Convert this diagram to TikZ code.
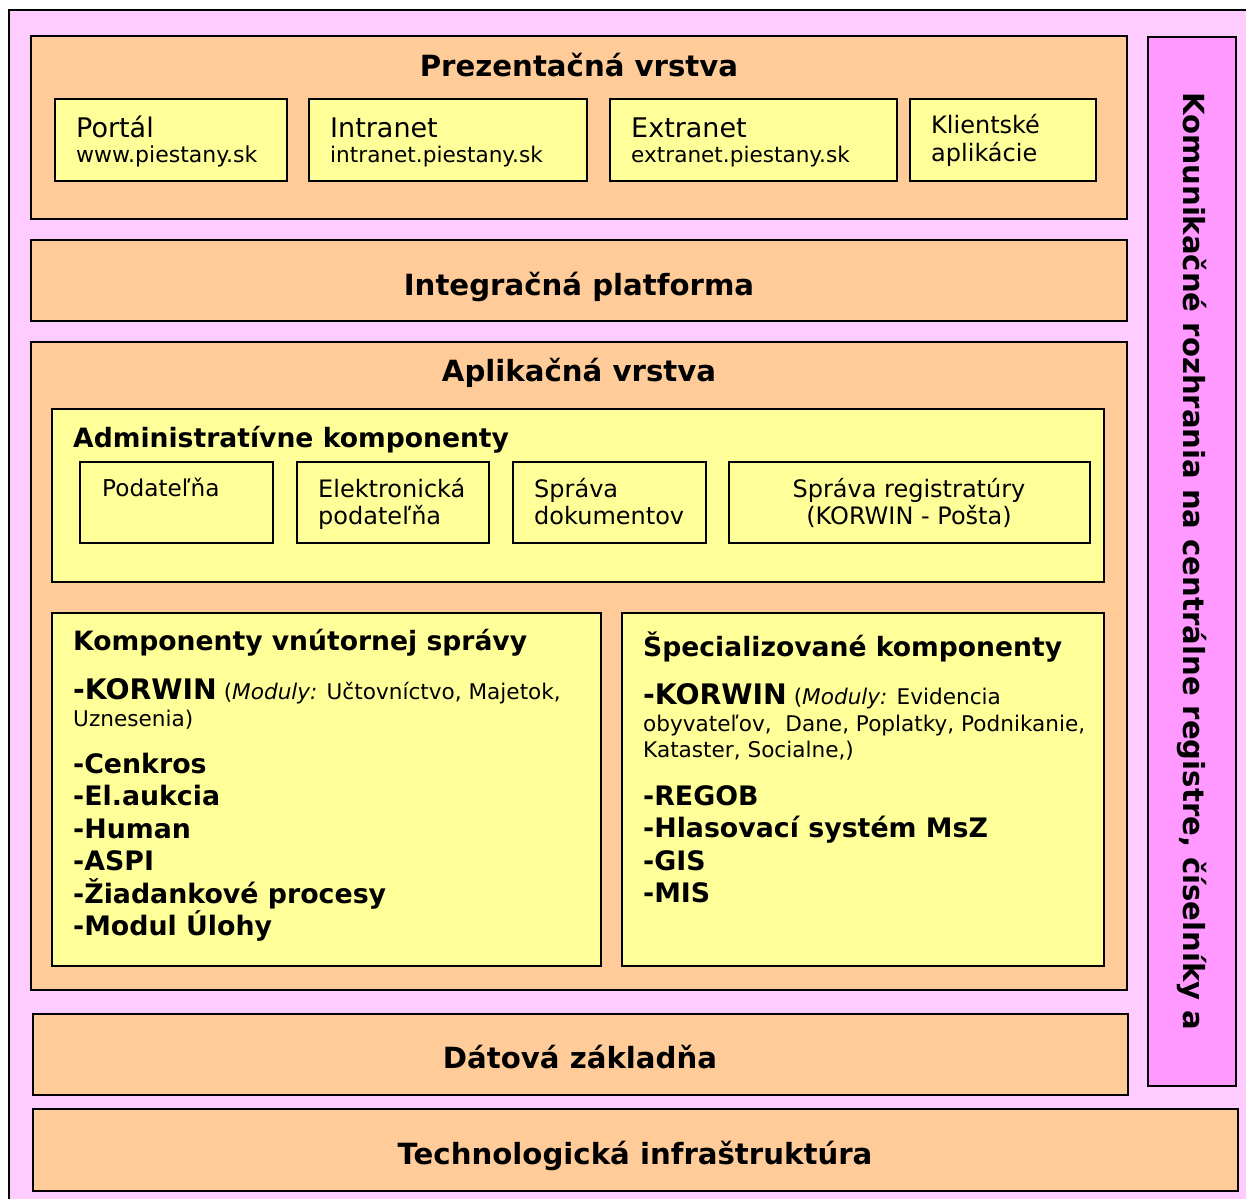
\documentclass[tikz,border=0pt]{standalone}
\usepackage{fontspec}
\setmainfont{DejaVu Sans}
\definecolor{bgpink}{HTML}{FFCCFF}
\definecolor{peach}{HTML}{FFCC99}
\definecolor{lyellow}{HTML}{FFFF99}
\definecolor{magen}{HTML}{FF99FF}
\tikzset{
  box/.style={draw=black, line width=1.8pt, anchor=north west, inner sep=0pt, outer sep=0pt},
  layer/.style={box, fill=peach},
  ybox/.style={box, fill=lyellow, line width=1.5pt},
  ttl/.style={font=\fontsize{29.2}{34}\selectfont\bfseries, anchor=base, inner sep=0pt},
  sttl/.style={font=\fontsize{26.6}{30}\selectfont\bfseries, anchor=base west, inner sep=0pt},
  big/.style={font=\fontsize{27}{30}\selectfont, anchor=base west, inner sep=0pt},
  sml/.style={font=\fontsize{21.6}{26}\selectfont, anchor=base west, inner sep=0pt},
  mid/.style={font=\fontsize{24}{28}\selectfont, inner sep=0pt},
  itm/.style={font=\fontsize{26.8}{30}\selectfont\bfseries, anchor=base west, inner sep=0pt},
}
\newcommand{\korw}{{\fontsize{28.3}{30}\selectfont\bfseries -KORWIN}}
\begin{document}
\begin{tikzpicture}[x=1pt,y=-1pt]
\useasboundingbox (0,0) rectangle (1246,1198);
\clip (0,0) rectangle (1246,1198);
\fill[white] (0,0) rectangle (1246,1198);
% outer frame
\node[box, fill=bgpink, minimum width=1260pt, minimum height=1210pt] (frame) at (9,10) {};
% vertical interface box
\node[box, fill=magen, minimum width=88pt, minimum height=1049pt] (komm) at (1148,37) {};
\node[font=\fontsize{29.1}{34}\selectfont\bfseries, rotate=-90, anchor=west, inner sep=0pt] (kommt) at (1192,92) {Komunikačné rozhrania na centrálne registre, číselníky a};
% presentation layer
\node[layer, minimum width=1096pt, minimum height=183pt] (pres) at (31,36) {};
\node[ttl] (prest) at (579,77) {Prezentačná vrstva};
\node[ybox, minimum width=232pt, minimum height=82pt] (portal) at (55,99) {};
\node[big] (portalt) at (76,138) {Portál};
\node[sml, font=\fontsize{22}{26}\selectfont] (portalu) at (76,163) {www.piestany.sk};
\node[ybox, minimum width=278pt, minimum height=82pt] (intra) at (309,99) {};
\node[big] (intrat) at (330,138) {Intranet};
\node[sml] (intrau) at (330,163) {intranet.piestany.sk};
\node[ybox, minimum width=287pt, minimum height=82pt] (extra) at (610,99) {};
\node[big] (extrat) at (631,138) {Extranet};
\node[sml] (extrau) at (631,163) {extranet.piestany.sk};
\node[ybox, minimum width=186pt, minimum height=82pt] (klient) at (910,99) {};
\node[mid, anchor=base west] (klientt) at (931,134) {Klientské};
\node[mid, anchor=base west] (klientu) at (931,162) {aplikácie};
% integration platform
\node[layer, minimum width=1096pt, minimum height=81pt] (integ) at (31,240) {};
\node[ttl] (integt) at (579,295) {Integračná platforma};
% application layer
\node[layer, minimum width=1096pt, minimum height=648pt] (apl) at (31,342) {};
\node[ttl] (aplt) at (579,381) {Aplikačná vrstva};
\node[ybox, minimum width=1052pt, minimum height=173pt] (admin) at (52,409) {};
\node[sttl] (admint) at (73,447) {Administratívne komponenty};
\node[ybox, minimum width=193pt, minimum height=81pt] (pod) at (80,462) {};
\node[mid, anchor=base west, font=\fontsize{23.2}{26}\selectfont] (podt) at (102,496) {Podateľňa};
\node[ybox, minimum width=192pt, minimum height=81pt] (epod) at (297,462) {};
\node[mid, anchor=base west] (epodt) at (318,497) {Elektronická};
\node[mid, anchor=base west] (epodu) at (318,524) {podateľňa};
\node[ybox, minimum width=193pt, minimum height=81pt] (sdok) at (513,462) {};
\node[mid, anchor=base west] (sdokt) at (534,497) {Správa};
\node[mid, anchor=base west] (sdoku) at (534,524) {dokumentov};
\node[ybox, minimum width=361pt, minimum height=81pt] (sreg) at (729,462) {};
\node[mid, anchor=base] (sregt) at (909,497) {Správa registratúry};
\node[mid, anchor=base] (sregu) at (909,524) {(KORWIN - Pošta)};
% internal components
\node[ybox, minimum width=549pt, minimum height=353pt] (vnut) at (52,613) {};
\node[sttl] (vnutt) at (73,650) {Komponenty vnútornej správy};
\node[sml] (vk1) at (73,699) {\korw{} (\textit{Moduly:} Učtovníctvo, Majetok,};
\node[sml] (vk2) at (73,726) {Uznesenia)};
\node[itm] (v1) at (73,773) {-Cenkros};
\node[itm] (v2) at (73,805) {-El.aukcia};
\node[itm] (v3) at (73,838) {-Human};
\node[itm] (v4) at (73,870) {-ASPI};
\node[itm] (v5) at (73,903) {-Žiadankové procesy};
\node[itm] (v6) at (73,935) {-Modul Úlohy};
% specialised components
\node[ybox, minimum width=482pt, minimum height=353pt] (spec) at (622,613) {};
\node[sttl] (spect) at (643,656) {Špecializované komponenty};
\node[sml] (sk1) at (643,704) {\korw{} (\textit{Moduly:} Evidencia};
\node[sml] (sk2) at (643,731) {obyvateľov,\ \ Dane, Poplatky, Podnikanie,};
\node[sml] (sk3) at (643,757) {Kataster, Socialne,)};
\node[itm] (s1) at (643,805) {-REGOB};
\node[itm] (s2) at (643,837) {-Hlasovací systém MsZ};
\node[itm] (s3) at (643,870) {-GIS};
\node[itm] (s4) at (643,902) {-MIS};
% data
\node[layer, minimum width=1095pt, minimum height=81pt] (data) at (33,1014) {};
\node[ttl] (datat) at (580,1068) {Dátová základňa};
% technology
\node[layer, minimum width=1205pt, minimum height=82pt] (tech) at (33,1109) {};
\node[ttl] (techt) at (635,1164) {Technologická infraštruktúra};
\end{tikzpicture}
\end{document}
